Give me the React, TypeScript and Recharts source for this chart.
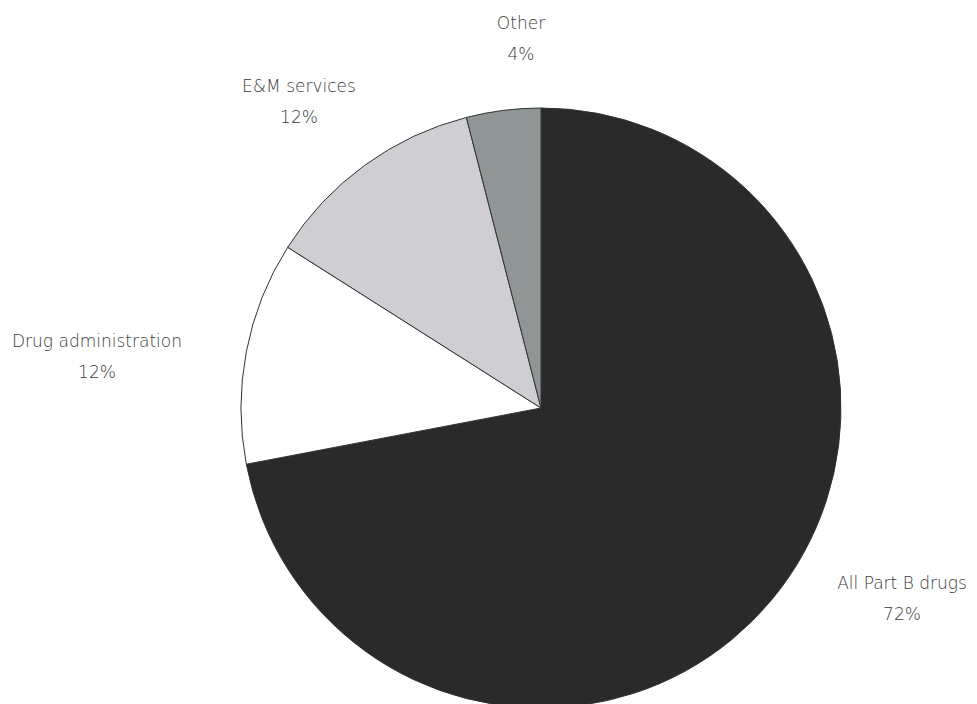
import { PieChart, Pie, Cell } from "recharts";

const categories = ["All Part B drugs", "Drug administration", "E&M services", "Other"];
const shares = [72, 12, 12, 4];

const SLICE_COLORS = ["#2a2a2a", "#ffffff", "#cfcfd3", "#8f9695"];

// label centre relative to pie centre
const LABEL_OFFSETS: Record<string, { dx: number; dy: number }> = {
  "All Part B drugs": { dx: 361, dy: 181 },
  "Drug administration": { dx: -444, dy: -61 },
  "E&M services": { dx: -242, dy: -316 },
  Other: { dx: -20, dy: -379 },
};

const data = categories.map((name, i) => ({ name, value: shares[i] }));

const renderLabel = (props: any) => {
  const { cx, cy, name, value } = props;
  const off = LABEL_OFFSETS[name] || { dx: 0, dy: 0 };
  const x = cx + off.dx;
  const y = cy + off.dy;
  return (
    <text
      x={x}
      y={y}
      textAnchor="middle"
      fill="#3a3a3a"
      style={{ fontFamily: "'DejaVu Sans', sans-serif", fontSize: 17, fontWeight: 200 }}
    >
      <tspan x={x} dy={0}>{name}</tspan>
      <tspan x={x} dy={31}>{value}%</tspan>
    </text>
  );
};

export default function App() {
  return (
    <div style={{ position: "absolute", left: 0, top: 0, width: 977, height: 704, background: "#fff" }}>
      <PieChart width={977} height={704} margin={{ top: 0, right: 0, bottom: 0, left: 0 }}>
        <Pie
          data={data}
          dataKey="value"
          nameKey="name"
          cx={541}
          cy={408}
          outerRadius={300}
          startAngle={90}
          endAngle={-270}
          stroke="#333333"
          strokeWidth={1}
          label={renderLabel}
          labelLine={false}
          isAnimationActive={false}
        >
          {data.map((d, i) => (
            <Cell key={d.name} fill={SLICE_COLORS[i]} />
          ))}
        </Pie>
      </PieChart>
    </div>
  );
}
